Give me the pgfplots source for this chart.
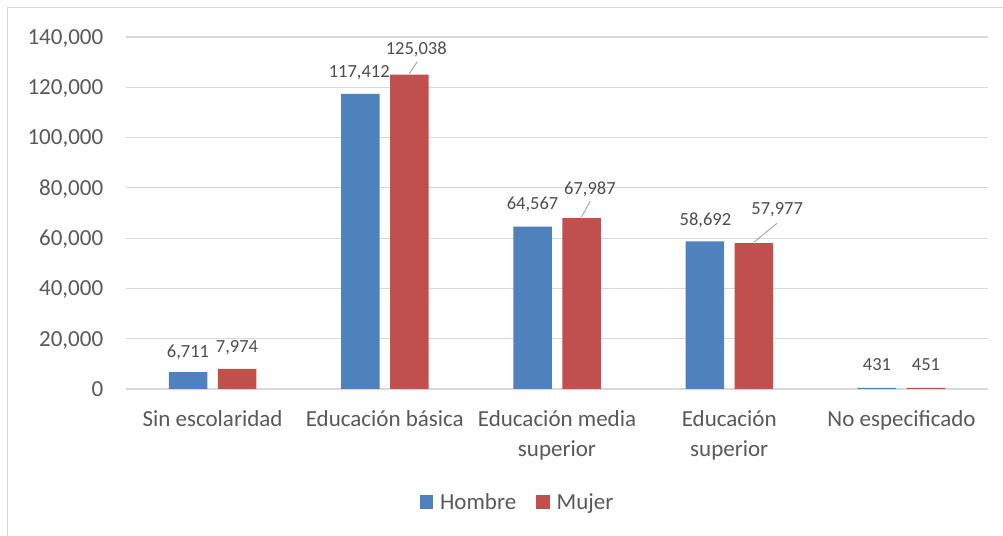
\documentclass[border=0pt]{standalone}
\usepackage{fontspec}
\setmainfont{Carlito}
\usepackage{pgfplots}
\usepackage{pgfplotstable}
\pgfplotsset{compat=1.18}
\definecolor{hombre}{HTML}{4F81BD}
\definecolor{mujer}{HTML}{C0504D}
\definecolor{txt}{HTML}{595959}
\definecolor{lbl}{HTML}{4D4D4D}
\definecolor{gridc}{HTML}{D9D9D9}
\definecolor{leadc}{HTML}{A6A6A6}

% x = category index, y = value, dx/dy = label offset (bp) from category centre / bar top to label baseline
\pgfplotstableread{
x y lab dx dy
0 6711 6,711 -24.5 14.6
1 117412 117,412 -25.5 16.3
2 64567 64,567 -24.5 17.0
3 58692 58,692 -23.8 16.3
4 431 431 -24.5 17.3
}\hombredata
\pgfplotstableread{
x y lab dx dy
0 7974 7,974 24.5 16.0
1 125038 125,038 31.5 20.6
2 67987 67,987 32.9 23.7
3 57977 57,977 47.9 28.6
4 451 451 24.5 17.3
}\mujerdata

\begin{document}
\begin{tikzpicture}[x=1bp,y=1bp]
\useasboundingbox (0,0) rectangle (1003,536);
\fill[white] (0,0) rectangle (1003,536);
\draw[gridc, line width=1.5bp] (7.5,-5) -- (7.5,528.5) -- (1010,528.5);
\begin{axis}[
  at={(126.4bp,147bp)}, anchor=south west,
  scale only axis, width=861.2bp, height=352bp,
  xmin=-0.5, xmax=4.5, ymin=0, ymax=140000,
  ytick={0,20000,40000,60000,80000,100000,120000,140000},
  yticklabels={0,{20,000},{40,000},{60,000},{80,000},{100,000},{120,000},{140,000}},
  xtick={0,1,2,3,4},
  xticklabels={Sin escolaridad, Educación básica, {Educación media\\superior}, {Educación\\superior}, No especificado},
  scaled y ticks=false,
  axis line style={draw=none},
  major tick length=0pt,
  tick style={draw=none},
  ymajorgrids,
  major grid style={draw=gridc, line width=1.1bp},
  yticklabel style={font=\fontsize{23bp}{28bp}\selectfont, text=txt, anchor=base east, inner sep=0pt, xshift=-23bp, yshift=-7.3bp},
  xticklabel style={font=\fontsize{23bp}{30bp}\selectfont, text=txt, align=center, anchor=north, inner sep=0pt, yshift=-21.5bp},
  legend style={at={(axis description cs:0.453,-0.321)}, anchor=center, draw=none, fill=none,
    font=\fontsize{23bp}{28bp}\selectfont, text=txt, legend columns=2,
    nodes={inner sep=0pt},
    /tikz/every odd column/.append style={column sep=7bp},
    /tikz/every even column/.append style={column sep=20bp}},
  legend image code/.code={\fill[#1] (0bp,-6.7bp) rectangle (13.4bp,6.7bp);},
  point meta=explicit symbolic,
  nodes near coords,
]
\addplot[ybar, bar width=38.5bp, bar shift=-24.5bp, fill=hombre, draw=none,
  visualization depends on={\thisrow{dx}\as\ldx},
  visualization depends on={\thisrow{dy}\as\ldy},
  every node near coord/.append style={font=\fontsize{18.5bp}{20bp}\selectfont, text=lbl, anchor=base, inner sep=0pt, xshift=\ldx bp, yshift=\ldy bp}]
  table[x=x,y=y,meta=lab]{\hombredata};
\addlegendentry{Hombre}
\addplot[ybar, bar width=38.5bp, bar shift=24.5bp, fill=mujer, draw=none,
  visualization depends on={\thisrow{dx}\as\ldx},
  visualization depends on={\thisrow{dy}\as\ldy},
  every node near coord/.append style={font=\fontsize{18.5bp}{20bp}\selectfont, text=lbl, anchor=base, inner sep=0pt, xshift=\ldx bp, yshift=\ldy bp}]
  table[x=x,y=y,meta=lab]{\mujerdata};
\addlegendentry{Mujer}
\draw[leadc, line width=0.9bp] ([xshift=24.5bp,yshift=1bp]axis cs:1,125038) -- ([xshift=32.5bp,yshift=12.9bp]axis cs:1,125038);
\draw[leadc, line width=0.9bp] ([xshift=24.5bp,yshift=1bp]axis cs:2,67987) -- ([xshift=33.2bp,yshift=17bp]axis cs:2,67987);
\draw[leadc, line width=0.9bp] ([xshift=24.5bp,yshift=1bp]axis cs:3,57977) -- ([xshift=47.9bp,yshift=20bp]axis cs:3,57977);
\end{axis}
\end{tikzpicture}
\end{document}
